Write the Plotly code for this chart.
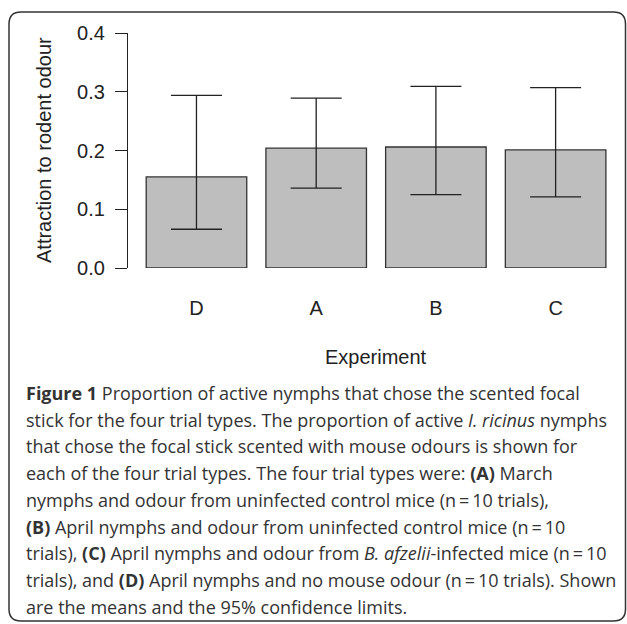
import plotly.graph_objects as go

categories = ["D", "A", "B", "C"]
means = [0.155, 0.204, 0.206, 0.201]
upper = [0.294, 0.289, 0.309, 0.307]
lower = [0.066, 0.136, 0.125, 0.121]
y_ticks = [0.0, 0.1, 0.2, 0.3, 0.4]
y_tick_text = ["0.0", "0.1", "0.2", "0.3", "0.4"]

caption_lines = [
    "<b>Figure 1</b> Proportion of active nymphs that chose the scented focal",
    "stick for the four trial types. The proportion of active <i>I. ricinus</i> nymphs",
    "that chose the focal stick scented with mouse odours is shown for",
    "each of the four trial types. The four trial types were: <b>(A)</b> March",
    "nymphs and odour from uninfected control mice (n\u2009=\u200910 trials),",
    "<b>(B)</b> April nymphs and odour from uninfected control mice (n\u2009=\u200910",
    "trials), <b>(C)</b> April nymphs and odour from <i>B. afzelii</i>-infected mice (n\u2009=\u200910",
    "trials), and <b>(D)</b> April nymphs and no mouse odour (n\u2009=\u200910 trials). Shown",
    "are the means and the 95% confidence limits.",
]

W, H = 627, 624
L, R, T, B = 128, 1, 33, 356
PW, PH = W - L - R, H - T - B


def px(x):
    return (x - L) / PW


def py(y):
    return (H - B - y) / PH


err_plus = [u - m for u, m in zip(upper, means)]
err_minus = [m - l for m, l in zip(means, lower)]

fig = go.Figure()
fig.add_trace(go.Bar(
    x=list(range(len(categories))),
    y=means,
    width=0.84,
    marker=dict(color="#bebebe", line=dict(color="#333333", width=1.3)),
    error_y=dict(type="data", symmetric=False, array=err_plus, arrayminus=err_minus,
                 color="#222222", thickness=1.3, width=25.5),
    hoverinfo="skip",
))

chart_font = dict(family="Liberation Sans, Arial, sans-serif", size=20, color="#222222")

fig.update_layout(
    width=W, height=H,
    margin=dict(l=L, r=R, t=T, b=B, pad=0),
    paper_bgcolor="white", plot_bgcolor="white",
    showlegend=False,
    font=chart_font,
    xaxis=dict(range=[-0.572, 3.588], tickmode="array",
               tickvals=list(range(len(categories))), ticktext=categories,
               showline=False, showgrid=False, zeroline=False, ticks="",
               ticklabelstandoff=26, tickfont=chart_font),
    yaxis=dict(range=[0, 0.4], tickmode="array", tickvals=y_ticks, ticktext=y_tick_text,
               showline=True, linecolor="#222222", linewidth=1.3,
               ticks="outside", ticklen=12, tickwidth=1.3, tickcolor="#222222",
               showgrid=False, zeroline=False, ticklabelstandoff=6, tickfont=chart_font),
)

annotations = [
    dict(text="Attraction to rodent odour", xref="paper", yref="paper",
         x=px(44), y=py(150), textangle=-90, showarrow=False,
         xanchor="center", yanchor="middle", font=chart_font),
    dict(text="Experiment", xref="paper", yref="paper",
         x=px(376), y=py(357), showarrow=False,
         xanchor="center", yanchor="middle", font=chart_font),
]

cap_font = dict(family="Open Sans, sans-serif", size=18, color="#333333")
for i, line in enumerate(caption_lines):
    annotations.append(dict(text=line, xref="paper", yref="paper",
                            x=px(24), y=py(393 + i * 26.7), showarrow=False,
                            xanchor="left", yanchor="middle", font=cap_font))
fig.update_layout(annotations=annotations)

# rounded frame around figure and caption
x0, x1, y0, y1, r = 9, 625.5, 12, 621, 12
path = (f"M {px(x0 + r)} {py(y0)} L {px(x1 - r)} {py(y0)} "
        f"Q {px(x1)} {py(y0)} {px(x1)} {py(y0 + r)} "
        f"L {px(x1)} {py(y1 - r)} Q {px(x1)} {py(y1)} {px(x1 - r)} {py(y1)} "
        f"L {px(x0 + r)} {py(y1)} Q {px(x0)} {py(y1)} {px(x0)} {py(y1 - r)} "
        f"L {px(x0)} {py(y0 + r)} Q {px(x0)} {py(y0)} {px(x0 + r)} {py(y0)} Z")
fig.add_shape(type="path", path=path, xref="paper", yref="paper",
              line=dict(color="#333333", width=1.5), layer="above")

fig.write_html("out.html", config={"displayModeBar": False},
               post_script="document.body.style.margin='0';document.body.style.overflow='hidden';")
